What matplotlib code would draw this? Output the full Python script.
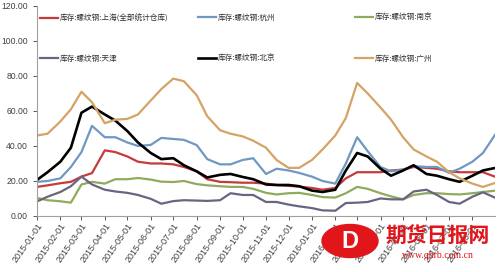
import pandas as pd
import matplotlib
matplotlib.use("Agg")
import matplotlib.pyplot as plt
import matplotlib.dates as mdates
from matplotlib.patches import Ellipse

# semi-monthly sample points, 2015-01-01 .. 2016-09-01
dates = pd.date_range("2015-01-01", periods=41, freq="SMS")

shanghai = [16.6, 17.5, 18.7, 19.5, 22.5, 24.5, 37.5, 36.5, 34, 31, 30, 30, 29.5, 28, 25.5, 21,
            19.5, 19.3, 19, 19, 18.5, 17.7, 17.2, 16.8, 16, 15, 16, 21.5, 25, 25, 25, 26,
            26.5, 28, 27.5, 27, 25.5, 25, 25, 25, 22.3]
hangzhou = [19.5, 20, 21.5, 28, 36.5, 51.5, 45, 45, 42, 40, 40.6, 44.6, 44, 43.5, 40.5, 32.5,
            29.5, 29.5, 32, 33, 24, 27, 26, 24.6, 22.5, 20, 18.5, 30, 45, 37, 28, 25.5,
            26.5, 28.5, 28, 28, 24.6, 27, 31, 36, 47]
nanjing = [10.3, 9, 8.4, 7.6, 18, 19.5, 18.5, 21, 21, 21.7, 20.8, 19.6, 19.4, 20, 18.2, 17.5,
           17, 16.6, 16.6, 15.5, 13.2, 12.3, 13, 13.2, 12, 10.8, 10.5, 13, 16.6, 15.5, 13, 11.2,
           9.5, 12, 13, 13, 12.5, 12.3, 13, 13.7, 14.5]
tianjin = [8.3, 11, 13.7, 17, 22.5, 18, 15, 14, 13.2, 12, 9.8, 7, 8.5, 9, 8.8, 8.6,
           9, 13, 12, 12, 8, 8, 6.5, 5.5, 4.5, 3.2, 3, 7.4, 7.6, 8, 10, 9.5,
           9.5, 14, 15, 12, 8, 7, 11, 13.5, 10.3]
beijing = [20.6, 25, 31, 39, 59, 62.5, 58, 54.5, 48.5, 42, 36, 32.5, 33, 29, 25.5, 22,
           23.5, 24, 22.3, 21, 18, 17.7, 17.7, 17, 14.5, 13.7, 15, 26, 36, 34, 27, 23,
           26, 29, 24, 23, 21, 19.5, 23, 26, 27.5]
guangzhou = [46, 47, 54, 61, 71, 65, 53, 55, 55.5, 58, 66, 72.5, 78.5, 77, 69, 57,
             49, 47, 45.5, 43, 39, 32, 27.5, 27.5, 32, 38, 46, 56, 76, 70, 62, 55,
             45, 38, 34, 31, 25, 21.5, 18.5, 16.6, 19]

labels = ["库存:螺纹钢:上海(全部统计仓库)", "库存:螺纹钢:杭州", "库存:螺纹钢:南京",
          "库存:螺纹钢:天津", "库存:螺纹钢:北京", "库存:螺纹钢:广州"]
series = [shanghai, hangzhou, nanjing, tianjin, beijing, guangzhou]
colors = ["#c8393a", "#6f98c2", "#90aa5e", "#6b6480", "#000000", "#d4a365"]
widths = [1.6, 1.6, 1.6, 1.6, 1.9, 1.6]

plt.rcParams["font.family"] = ["Liberation Sans", "Noto Sans CJK SC"]

fig = plt.figure(figsize=(5.0, 2.72), dpi=100)
ax = fig.add_axes([0.074, 0.206, 0.916, 0.772])

lines = []
for vals, lab, c, w in zip(series, labels, colors, widths):
    ln, = ax.plot(dates, vals, color=c, lw=w, label=lab, solid_joinstyle="round")
    lines.append(ln)

ax.set_ylim(0, 120)
ax.set_yticks(range(0, 121, 20))
ax.yaxis.set_major_formatter(plt.FormatStrFormatter("%.2f"))
ax.set_xlim(pd.Timestamp("2015-01-01"), pd.Timestamp("2016-08-31"))
ax.xaxis.set_major_locator(mdates.MonthLocator())
ax.xaxis.set_major_formatter(mdates.DateFormatter("%Y-%m-%d"))
ax.tick_params(axis="y", labelsize=6.2, colors="#404040", length=3, width=0.6)
ax.tick_params(axis="x", labelsize=6.5, colors="#404040", length=3, width=0.6, pad=1)
plt.setp(ax.get_xticklabels(), rotation=55, ha="right", rotation_mode="anchor")

for s in ["top", "right"]:
    ax.spines[s].set_visible(False)
for s in ["left", "bottom"]:
    ax.spines[s].set_color("#a0a0a0")
    ax.spines[s].set_linewidth(0.8)

# legend: three columns of two rows, like the spreadsheet layout
col_x = [0.072, 0.388, 0.702]
for i, x in enumerate(col_x):
    leg = fig.legend([lines[i], lines[i + 3]], [labels[i], labels[i + 3]],
                     loc="upper left", bbox_to_anchor=(x, 0.963), frameon=False,
                     prop={"family": ["Noto Sans CJK SC"], "size": 5.5},
                     handlelength=2.4, handletextpad=0.2, borderpad=0,
                     labelspacing=4.3)
    for t in leg.get_texts():
        t.set_color("#303030")

# site watermark in the lower right corner
fig.patches.append(Ellipse((350 / 500, 1 - 241 / 272), 56 / 500, 33 / 272,
                           transform=fig.transFigure, color="#e0161b", zorder=5))
fig.text(350 / 500, 1 - 241 / 272, "D", transform=fig.transFigure, color="white",
         fontsize=17, fontweight="bold", ha="center", va="center", zorder=6)
fig.text(438 / 500, 1 - 236 / 272, "期货日报网", color="#e0161b", fontsize=15,
         fontweight="bold", ha="center", va="center", family=["Noto Sans CJK SC"], zorder=6)
fig.text(438 / 500, 1 - 255 / 272, "www.qhrb.com.cn", color="#e0161b", fontsize=7,
         ha="center", va="center", family=["Liberation Serif"], zorder=6)

fig.savefig("out.png", dpi=100)
